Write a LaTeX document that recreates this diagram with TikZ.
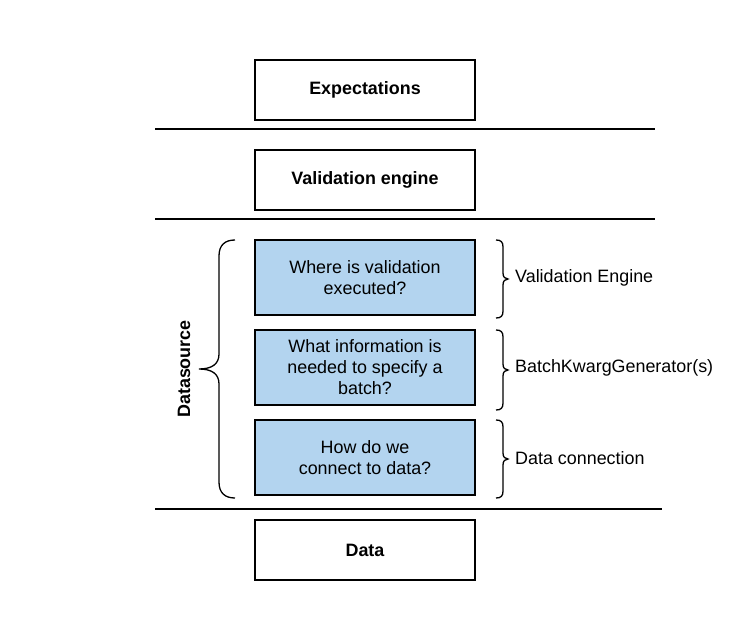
\documentclass[tikz,border=0pt]{standalone}
\usepackage{fontspec}
\setmainfont{Liberation Sans}
\definecolor{boxblue}{HTML}{B3D4EF}
\begin{document}
\begin{tikzpicture}[x=1pt,y=-1pt,
  layerbox/.style={draw=black,line width=1.6pt,minimum width=220pt,minimum height=60pt,inner sep=0pt,font=\fontsize{17.9}{21}\selectfont\bfseries,align=center},
  questionbox/.style={draw=black,line width=1.6pt,fill=boxblue,minimum width=220pt,minimum height=75pt,inner sep=0pt,font=\fontsize{17.9}{21}\selectfont,align=center},
  sepline/.style={line width=1.6pt},
  bracestyle/.style={line width=1.3pt},
  sidelabel/.style={anchor=west,inner sep=0pt,font=\fontsize{17.9}{21}\selectfont}]
\useasboundingbox (0,0) rectangle (755,620);
\node[layerbox] (exp) at (365,90) {Expectations};
\node[layerbox] (val) at (365,180) {Validation engine};
\node[questionbox] (q1) at (365,277.5) {Where is validation\\executed?};
\node[questionbox] (q2) at (365,367.5) {What information is\\needed to specify a\\batch?};
\node[questionbox] (q3) at (365,457.5) {How do we\\connect to data?};
\node[layerbox] (data) at (365,550) {Data};

\coordinate (l1a) at (155,129); \coordinate (l1b) at (655,129);
\coordinate (l2a) at (155,219); \coordinate (l2b) at (655,219);
\coordinate (l3a) at (155,509); \coordinate (l3b) at (662,509);
\draw[sepline] (l1a) -- (l1b);
\draw[sepline] (l2a) -- (l2b);
\draw[sepline] (l3a) -- (l3b);

% left brace
\draw[bracestyle] (235,240) .. controls (225,240) and (219,245) .. (219,256) -- (219,354)
  .. controls (219,364) and (212,369) .. (199,369)
  .. controls (212,369) and (219,374) .. (219,384) -- (219,482)
  .. controls (219,493) and (225,498) .. (235,498);
\node[rotate=90,font=\fontsize{17.9}{21}\selectfont\bfseries] (ds) at (184,369) {Datasource};

% right braces
\foreach \t/\b/\m in {240/318/279, 330/410/370, 420/498/459}{
  \draw[bracestyle] (496,\t) .. controls (501,\t) and (503,\t+2) .. (503,\t+7) -- (503,\m-6)
    .. controls (503,\m-2) and (505,\m) .. (508,\m)
    .. controls (505,\m) and (503,\m+2) .. (503,\m+6) -- (503,\b-7)
    .. controls (503,\b-2) and (501,\b) .. (496,\b);
}
\node[sidelabel] (s1) at (515,278) {Validation Engine};
\node[sidelabel] (s2) at (515,368) {BatchKwargGenerator(s)};
\node[sidelabel] (s3) at (515,458) {Data connection};
\end{tikzpicture}
\end{document}
